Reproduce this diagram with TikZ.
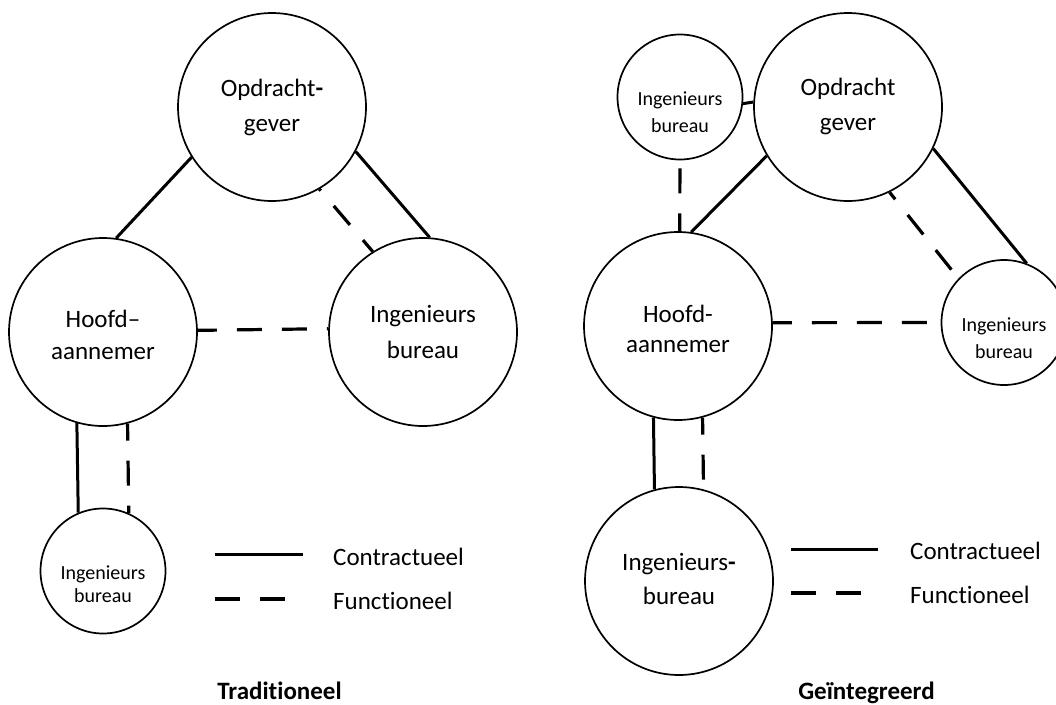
\documentclass[tikz,border=0pt]{standalone}
\usepackage{fontspec}
\setmainfont{Carlito}[Ligatures={NoCommon,NoRare,NoContextual}]
\begin{document}
\begin{tikzpicture}[x=1pt,y=-1pt,
  circ/.style={draw, circle, line width=1.7pt, inner sep=0pt},
  bigc/.style={circ, minimum size=188pt},
  smallc/.style={circ, minimum size=125pt},
  conn/.style={line width=3pt},
  dsh/.style={line width=3.2pt, dash pattern=on 25pt off 20pt},
  bigtxt/.style={font=\fontsize{25}{35}\selectfont, align=center, inner sep=0pt},
  smalltxt/.style={font=\fontsize{20}{27}\selectfont, align=center, inner sep=0pt},
  legtxt/.style={font=\fontsize{25}{30}\selectfont, anchor=base west, inner sep=0pt},
  titletxt/.style={font=\fontsize{25}{30}\selectfont\bfseries, anchor=base, inner sep=0pt}
]
\fill[white] (0,0) rectangle (1056,704);
\useasboundingbox (0,0) rectangle (1056,704);

% ---------- Traditioneel ----------
\node[bigc] (op1) at (272,107) {};
\node[bigc] (ha1) at (103,332) {};
\node[bigc] (ib1) at (423,332) {};
\node[smallc] (ib1s) at (103,571) {};

\node[bigtxt] (op1t) at (272,107) {Opdracht{\bfseries -}\\gever};
\node[bigtxt, font=\fontsize{25}{32}\selectfont] (ha1t) at (103,335) {Hoofd--\\aannemer};
\node[bigtxt, font=\fontsize{25}{36}\selectfont] (ib1t) at (423,332) {Ingenieurs\\bureau};
\node[smalltxt, font=\fontsize{20}{23.5}\selectfont] (ib1st) at (103,584) {Ingenieurs\\bureau};

\draw[conn] (op1.212.8) -- (ha1.82.7);
\draw[conn] (op1.332.6) -- (ib1.86.3);
\draw[dsh, dash phase=23pt] (op1.300) -- (ib1.122.5);
\draw[dsh, dash phase=6pt] (ha1.1.8) -- (ib1.178.2);
\draw[conn] (ha1.254.6) -- (ib1s.113.8);
\draw[dsh, dash phase=8pt] (ha1.285.4) -- (ib1s.66.2);

\coordinate (l1a) at (215,554);
\coordinate (l1b) at (303,554);
\coordinate (l1c) at (215,599);
\coordinate (l1d) at (286,599);
\draw[conn] (l1a) -- (l1b);
\draw[dsh] (l1c) -- (l1d);
\node[legtxt] (l1t1) at (333,565) {Contractueel};
\node[legtxt] (l1t2) at (333,609) {Functioneel};
\node[titletxt] (tit1) at (279.5,699) {Traditioneel};

% ---------- Geintegreerd ----------
\node[smallc] (ib2t) at (680,97) {};
\node[bigc] (op2) at (848,107) {};
\node[bigc] (ha2) at (678,326) {};
\node[smallc] (ib2r) at (1004,322.5) {};
\node[bigc] (ib2b) at (679,581) {};

\node[smalltxt] (ib2tt) at (680,112) {Ingenieurs\\bureau};
\node[bigtxt] (op2t) at (848,106) {Opdracht\\gever};
\node[bigtxt, font=\fontsize{25}{30}\selectfont] (ha2t) at (678,329) {Hoofd-\\aannemer};
\node[smalltxt] (ib2rt) at (1004,338.5) {Ingenieurs\\bureau};
\node[bigtxt, font=\fontsize{25}{34}\selectfont] (ib2bt) at (679,579) {Ingenieurs{\bfseries -}\\bureau};

\draw[conn] (ib2t.354.6) -- (op2.177.5);
\draw[conn] (op2.211.2) -- (ha2.82);
\draw[dsh, dash phase=37pt] (ib2t.270) -- (ha2.89.4);
\draw[conn] (op2.334.3) -- (ib2r.69);
\draw[dsh, dash phase=16pt] (op2.296.8) -- (ib2r.136);
\draw[dsh, dash phase=6pt] (ha2.2) -- (ib2r.180);
\draw[conn] (ha2.255.2) -- (ib2b.105.4);
\draw[dsh, dash phase=8pt] (ha2.285.4) -- (ib2b.75.2);

\coordinate (l2a) at (791,549);
\coordinate (l2b) at (878,549);
\coordinate (l2c) at (791,593);
\coordinate (l2d) at (861,593);
\draw[conn] (l2a) -- (l2b);
\draw[dsh] (l2c) -- (l2d);
\node[legtxt] (l2t1) at (910,559) {Contractueel};
\node[legtxt] (l2t2) at (910,603) {Functioneel};
\node[titletxt] (tit2) at (866.5,699) {Geïntegreerd};
\end{tikzpicture}
\end{document}
